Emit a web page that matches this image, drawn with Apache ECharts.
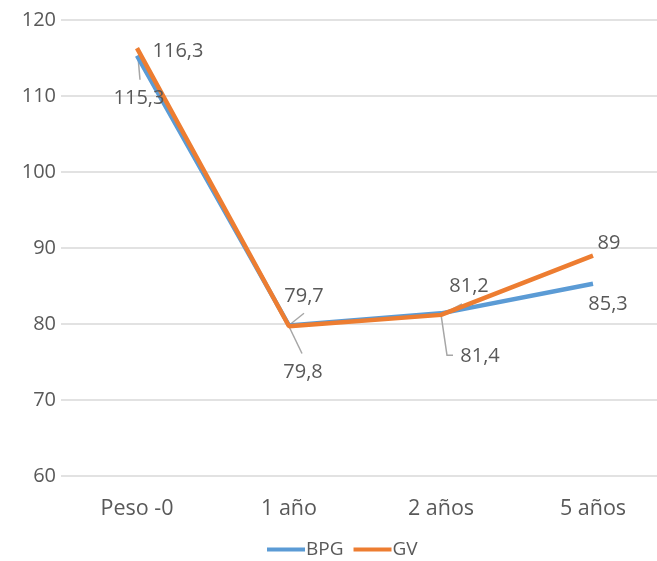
<!DOCTYPE html>
<html>
<head>
<meta charset="utf-8">
<script src="https://cdn.jsdelivr.net/npm/echarts@6/dist/echarts.min.js"></script>
<style>
  html, body { margin: 0; padding: 0; background: #fff; overflow: hidden; }
  #chart { width: 672px; height: 561px; }
</style>
</head>
<body>
<div id="chart"></div>
<script>
// Weight follow-up by surgery type
const categories = ['Peso -0', '1 año', '2 años', '5 años'];
const bpgValues = [115.3, 79.8, 81.4, 85.3];
const gvValues = [116.3, 79.7, 81.2, 89];
const yTicks = { min: 60, max: 120, step: 10 };

// Label offsets (dx, dy) from each point, per series
const bpgLabelShift = [[2, 43], [14, 47], [39, 43], [15, 21]];
const gvLabelShift = [[41, 3], [15, -30], [28, -29], [16, -12]];

// Leader lines: series index, data index, polyline relative to the point
const leaders = [
  [0, 0, [[1, 1], [3, 24]]],
  [1, 1, [[0, -1], [15, -13]]],
  [0, 1, [[0, 1], [13, 28]]],
  [0, 2, [[0, 1], [6, 42], [12, 42]]],
  [1, 2, [[6, -3], [21, -11]]]
];

const textColor = '#595959';
const font = 'Open Sans';

function fmt(v) { return String(v).replace('.', ','); }

function labelled(name, values, color, shift) {
  return {
    name,
    type: 'line',
    data: values,
    symbol: 'circle',
    symbolSize: 0,
    showSymbol: true,
    z: 3,
    lineStyle: { color, width: 4.5 },
    itemStyle: { color },
    emphasis: { disabled: true },
    label: {
      show: true, position: 'inside', color: textColor, fontFamily: font, fontSize: 20,
      formatter: p => fmt(p.value)
    },
    labelLayout: p => ({ dx: shift[p.dataIndex][0], dy: shift[p.dataIndex][1] })
  };
}

const chart = echarts.init(document.getElementById('chart'));
chart.setOption({
  animation: false,
  grid: { left: 61, width: 608, top: 20, bottom: 85 },
  legend: {
    bottom: 2,
    left: 267,
    padding: 0,
    itemWidth: 38,
    itemHeight: 4,
    itemGap: 10,
    icon: 'rect',
    textStyle: { color: textColor, fontFamily: font, fontSize: 19, padding: [0, 0, 0, -4] },
    data: ['BPG', 'GV']
  },
  xAxis: {
    type: 'category',
    data: categories,
    boundaryGap: true,
    axisLine: { show: false },
    axisTick: { show: false },
    axisLabel: { color: textColor, fontFamily: font, fontSize: 21.5, margin: 22 }
  },
  yAxis: {
    type: 'value',
    min: yTicks.min,
    max: yTicks.max,
    interval: yTicks.step,
    axisLine: { show: false },
    axisTick: { show: false },
    splitLine: { lineStyle: { color: '#d9d9d9', width: 1.5 } },
    axisLabel: { color: textColor, fontFamily: font, fontSize: 20, margin: 5 }
  },
  series: [
    labelled('BPG', bpgValues, '#5B9BD5', bpgLabelShift),
    labelled('GV', gvValues, '#ED7D31', gvLabelShift)
  ]
});

// Grey leader lines from points to their moved labels
const seriesValues = [bpgValues, gvValues];
chart.setOption({
  graphic: leaders.map(([s, i, pts]) => {
    const [px, py] = chart.convertToPixel({ seriesIndex: s }, [i, seriesValues[s][i]]);
    return {
      type: 'polyline',
      z: 1,
      silent: true,
      shape: { points: pts.map(([dx, dy]) => [px + dx, py + dy]) },
      style: { stroke: '#a6a6a6', lineWidth: 1.5, fill: null }
    };
  })
});
</script>
</body>
</html>
